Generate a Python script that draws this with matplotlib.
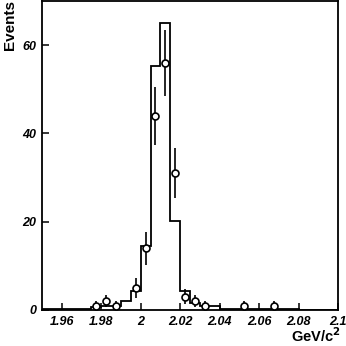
import numpy as np
import matplotlib
matplotlib.use("Agg")
import matplotlib.pyplot as plt

plt.rcParams['font.family'] = ['Liberation Sans', 'DejaVu Sans']

# Histogram (MC) bin edges and contents
hist_edges = [1.950, 1.955, 1.960, 1.965, 1.970, 1.975, 1.980, 1.985, 1.990, 1.995,
              2.000, 2.005, 2.010, 2.015, 2.020, 2.025, 2.030, 2.035, 2.040, 2.045,
              2.050, 2.055, 2.060, 2.065, 2.070, 2.075, 2.080, 2.085, 2.090, 2.095, 2.100]
hist_values = [0.15, 0.15, 0.15, 0.15, 0.2, 0.6, 0.9, 0.9, 2.0, 4.2,
               14.5, 55.3, 65.0, 20.2, 4.2, 1.5, 0.8, 0.8, 0.3, 0.3,
               0.3, 0.3, 0.15, 0.15, 0.15, 0.15, 0.1, 0.1, 0.1, 0.1]

# Data points
data_x = [1.9775, 1.9825, 1.9875, 1.9975, 2.0025, 2.0075, 2.0125, 2.0175,
          2.0225, 2.0275, 2.0325, 2.0525, 2.0675]
data_y = [1, 2, 1, 5, 14, 44, 56, 31, 3, 2, 1, 1, 1]
data_err = [1.0, 1.4, 1.0, 2.2, 3.7, 6.6, 7.5, 5.6, 1.7, 1.4, 1.0, 1.0, 1.0]

x_ticks = [1.96, 1.98, 2.00, 2.02, 2.04, 2.06, 2.08, 2.10]
x_ticklabels = ["1.96", "1.98", "2", "2.02", "2.04", "2.06", "2.08", "2.1"]
y_ticks = [0, 20, 40, 60]

fig = plt.figure(figsize=(3.46, 3.46), dpi=100)
ax = fig.add_axes([42/346, 36/346, 296/346, 309/346])

ax.stairs(hist_values, hist_edges, color='black', lw=1.3, baseline=None)
ax.errorbar(data_x, data_y, yerr=data_err, fmt='o', color='black', ms=5,
            mfc='white', mec='black', mew=1.2, elinewidth=1.2, capsize=0, zorder=3)

ax.set_xlim(1.95, 2.10)
ax.set_ylim(0, 70)
ax.set_xticks(x_ticks)
ax.set_xticklabels(x_ticklabels)
ax.set_yticks(y_ticks)
ax.tick_params(direction='in', length=5, width=1.1, labelsize=9)
ax.tick_params(axis='x', pad=4)
ax.tick_params(axis='y', pad=4)
for lab in ax.get_xticklabels() + ax.get_yticklabels():
    lab.set_fontweight('bold')
    lab.set_fontstyle('italic')
for s in ax.spines.values():
    s.set_linewidth(1.3)

fig.text(3/346, 1 - 0.5/346, "Events", rotation=90, ha='left', va='top',
         fontsize=11, fontweight='bold')
fig.text(341/346, 0.5/346, "GeV/c$^{\\mathbf{2}}$", ha='right', va='bottom',
         fontsize=10.5, fontweight='bold')

fig.savefig("out.png", dpi=100)
